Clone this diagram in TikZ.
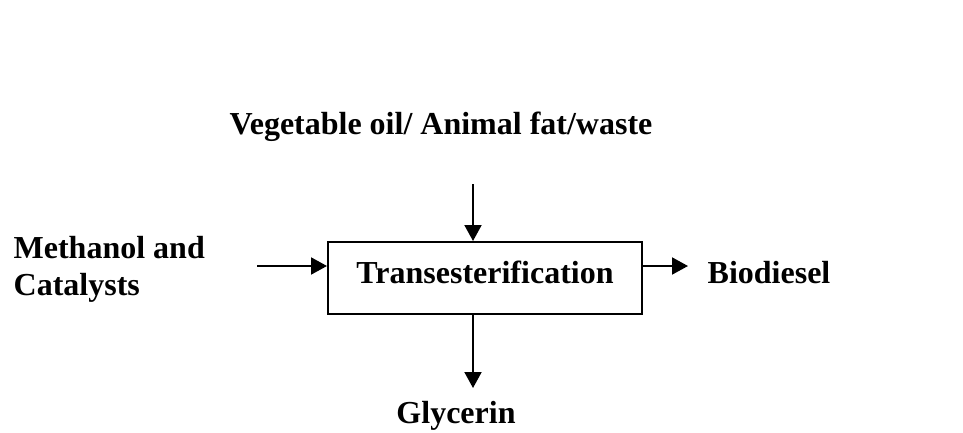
\documentclass[tikz,border=0pt]{standalone}
\usepackage{fontspec}
\setmainfont{Liberation Serif}
\usetikzlibrary{arrows.meta,positioning}

\begin{document}
\begin{tikzpicture}[x=0.5pt,y=-0.5pt,line width=1pt,
  font=\fontsize{16}{18.5}\selectfont\bfseries,
  >={Triangle[length=8pt,width=8.5pt]}]
\useasboundingbox (0,0) rectangle (963,433);

\node[draw,minimum width=157pt,minimum height=36pt,text depth=6pt](reactor) at (485,278){Transesterification};
\node(oil) at (441,127){Vegetable oil/ Animal fat/waste};
\node[anchor=west,align=left](methanol) at (6,269){Methanol and\\Catalysts};
\node[anchor=west](biodiesel) at (700,273){Biodiesel};
\node(glycerin) at (456,416){Glycerin};

\coordinate (oilin) at (473,184);
\coordinate (methin) at (257,266);
\coordinate (bioout) at (688,266);
\coordinate (glyout) at (473,388);

\draw[->] (oilin) -- (oilin |- reactor.north);
\draw[->] (methin) -- (reactor.west |- methin);
\draw[->] (reactor.east |- bioout) -- (bioout);
\draw[->] (reactor.south -| glyout) -- (glyout);
\end{tikzpicture}
\end{document}
